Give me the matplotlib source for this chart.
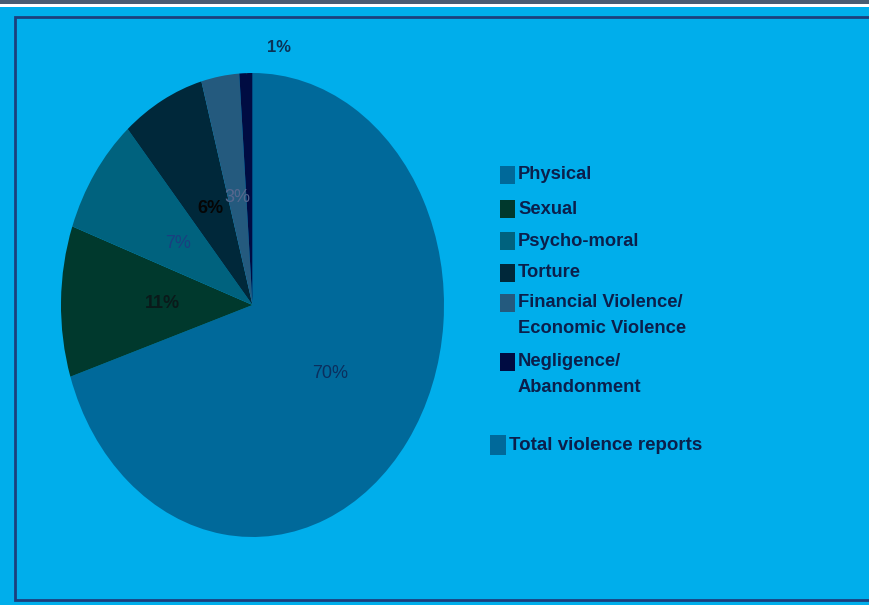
import matplotlib
matplotlib.use("Agg")
import matplotlib.pyplot as plt
from matplotlib.patches import Rectangle
import numpy as np

plt.rcParams['font.family'] = ['Liberation Sans', 'DejaVu Sans']

# ---- data ----
categories = ["Physical", "Sexual", "Psycho-moral", "Torture",
              "Financial Violence/\nEconomic Violence", "Negligence/\nAbandonment"]
values = [70, 10.5, 8.2, 7.0, 3.2, 1.1]
pct_labels = ["70%", "11%", "7%", "6%", "3%", "1%"]
series_name = "Total violence reports"

colors = ["#00699a", "#00392d", "#00627e", "#00283a", "#245a7e", "#000c42"]
label_colors = ["#0b2f5e", "#0a1a1a", "#1a3f80", "#050505", "#56678e", "#0b3256"]
label_weights = ["normal", "bold", "normal", "bold", "normal", "bold"]
BG = "#00aeeb"
TXT = "#0b1f4b"

W, H = 869, 605
fig = plt.figure(figsize=(W / 100, H / 100), dpi=100)
fig.patch.set_facecolor(BG)

def fx(px):
    return px / W

def fy(py):
    return 1 - py / H

# top strip and frame
fig.patches.append(Rectangle((0, fy(4)), 1, 4 / H, transform=fig.transFigure,
                             facecolor="#4a5d72", edgecolor="none", zorder=0))
fig.patches.append(Rectangle((0, fy(7)), 1, 3 / H, transform=fig.transFigure,
                             facecolor="white", edgecolor="none", zorder=0))
fig.patches.append(Rectangle((fx(15), fy(600)), fx(870) - fx(15), (600 - 17) / H,
                             transform=fig.transFigure, facecolor="none",
                             edgecolor="#1c3f7c", linewidth=2.0, zorder=1))

# pie axes (elliptical)
x0, x1, y0, y1 = 61, 444, 73, 537
ax = fig.add_axes([fx(x0), fy(y1), fx(x1) - fx(x0), (y1 - y0) / H])
ax.set_facecolor("none")
wedges, _ = ax.pie(values, colors=colors, startangle=90, counterclock=False,
                   wedgeprops=dict(linewidth=0))
ax.set_aspect("auto")
ax.set_xlim(-1, 1)
ax.set_ylim(-1, 1)
ax.axis("off")

for i, w in enumerate(wedges):
    mid = np.deg2rad((w.theta1 + w.theta2) / 2)
    if i == len(wedges) - 1:
        xr = np.cos(mid)
        ax.plot([xr, xr], [1.0, 1.07], color="#0b3256", linewidth=1)
        ax.text(0.14, 1.11, pct_labels[i], ha="center", va="center",
                fontsize=12, fontweight="bold", color=label_colors[i])
    else:
        r = 0.5 if i == 0 else 0.47
        ax.text(r * np.cos(mid), r * np.sin(mid), pct_labels[i],
                ha="center", va="center", fontsize=13,
                fontweight=label_weights[i], color=label_colors[i])

# legend (manual)
leg_y = [175, 209, 241, 273, 303, 362]
for i, (lab, c) in enumerate(zip(categories, colors)):
    y = leg_y[i]
    fig.patches.append(Rectangle((fx(500), fy(y + 9)), 15 / W, 18 / H,
                                 transform=fig.transFigure, facecolor=c,
                                 edgecolor="none"))
    t = fig.text(fx(518), fy(y), lab, ha="left", va="center", fontsize=13.2,
                 fontweight="bold", color=TXT, linespacing=1.7)
    if "\n" in lab:
        t.set_va("top")
        t.set_y(fy(y - 9))

fig.patches.append(Rectangle((fx(490), fy(455)), 16 / W, 20 / H,
                             transform=fig.transFigure, facecolor=colors[0],
                             edgecolor="none"))
fig.text(fx(509), fy(446), series_name, ha="left", va="center", fontsize=13.5,
         fontweight="bold", color=TXT)

fig.savefig("out.png", dpi=100, facecolor=fig.get_facecolor())
